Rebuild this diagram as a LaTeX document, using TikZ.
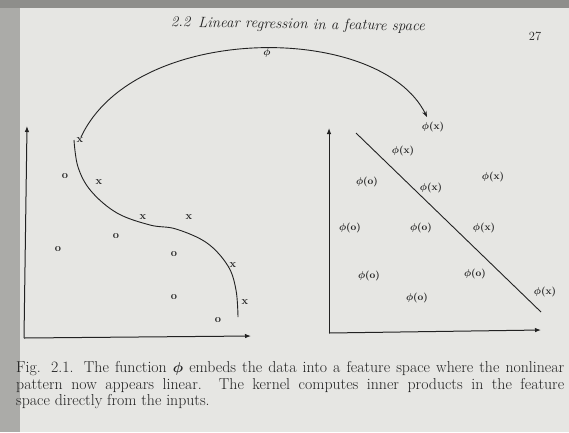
\documentclass[tikz,border=0pt]{standalone}
\usepackage{bm}
\usetikzlibrary{arrows.meta}
\definecolor{ink}{HTML}{222222}
\definecolor{paper}{HTML}{E6E6E3}
\definecolor{edge}{HTML}{ABABA8}
\definecolor{topband}{HTML}{8E8E8B}
\newcommand{\phx}{$\bm{\phi}$\textbf{(x)}}
\newcommand{\pho}{$\bm{\phi}$\textbf{(o)}}
\tikzset{
  mk/.style={inner sep=0pt, text=ink, font=\fontsize{11}{12}\selectfont\bfseries},
  fl/.style={inner sep=0pt, text=ink, font=\fontsize{10}{12}\selectfont\bfseries},
  axis/.style={draw=ink, line width=1pt, -{Latex[length=6pt,width=4.5pt]}},
  crv/.style={draw=ink, line width=0.9pt},
  captext/.style={inner sep=0pt, anchor=north west, align=left, text=ink, font=\fontsize{15.8}{16.8}\selectfont},
}
\begin{document}
\begin{tikzpicture}[x=1pt,y=-1pt]
\useasboundingbox (0,0) rectangle (569,432);
\fill[paper] (0,0) rectangle (569,432);
\fill[edge] (0,8) rectangle (20,432);
\fill[topband] (0,0) rectangle (569,8);

% header
\node[inner sep=0pt, text=ink, font=\fontsize{15}{17}\selectfont\itshape, rotate=-1] (head) at (298,25) {2.2\, Linear regression in a feature space};
\node[inner sep=0pt, text=ink, font=\fontsize{12.5}{14}\selectfont] (pg) at (535,36) {27};

% left axes
\coordinate (lo) at (24,338);
\coordinate (ly) at (27,126);
\coordinate (lx) at (251,336);
\draw[axis] (lo) -- (ly);
\draw[axis] (lo) -- (lx);

% nonlinear boundary
\draw[crv] plot[smooth, tension=0.6] coordinates {(74,140) (78,167) (91,191) (117,213) (150,225) (176,229) (207,243) (228,266) (236,290) (238,317)};

% x markers
\node[mk] (x1) at (80,140) {x};
\node[mk] (x2) at (99,182) {x};
\node[mk] (x3) at (143,217) {x};
\node[mk] (x4) at (189,217) {x};
\node[mk] (x5) at (233,265) {x};
\node[mk] (x6) at (245,302) {x};
% o markers
\node[mk] (o1) at (65,176) {o};
\node[mk] (o2) at (58,249) {o};
\node[mk] (o3) at (116,236) {o};
\node[mk] (o4) at (174,254) {o};
\node[mk] (o5) at (174,297) {o};
\node[mk] (o6) at (218,320) {o};

% right axes
\coordinate (ro) at (329,333);
\coordinate (ry) at (329,128);
\coordinate (rx) at (541,330);
\draw[axis] (ro) -- (ry);
\draw[axis] (ro) -- (rx);

% linear boundary
\coordinate (la) at (356,133);
\coordinate (lb) at (541,312);
\draw[crv] (la) -- (lb);

\node[fl] (px1) at (433,127) {\phx};
\node[fl] (px2) at (403,151) {\phx};
\node[fl] (px3) at (431,188) {\phx};
\node[fl] (px4) at (493,177) {\phx};
\node[fl] (px5) at (484,228) {\phx};
\node[fl] (px6) at (545,292) {\phx};
\node[fl] (po1) at (367,182) {\pho};
\node[fl] (po2) at (350,228) {\pho};
\node[fl] (po3) at (421,228) {\pho};
\node[fl] (po4) at (369,276) {\pho};
\node[fl] (po5) at (475,274) {\pho};
\node[fl] (po6) at (417,298) {\pho};

% mapping arc
\coordinate (arcS) at (81,137);
\coordinate (arcE) at (427,117);
\draw[ink, line width=0.9pt, -{Stealth[length=6pt,width=4.5pt]}] (arcS) .. controls (135,22) and (380,22) .. (arcE);
\node[fl] (phi) at (267,53) {$\bm{\phi}$};

% caption
\node[captext] (cap) at (16,361) {\makebox[548pt][s]{Fig. 2.1. The function $\bm{\phi}$ embeds the data into a feature space where the nonlinear}\\
\makebox[548pt][s]{pattern now appears linear.\ \ The kernel computes inner products in the feature}\\
space directly from the inputs.};
\end{tikzpicture}
\end{document}
